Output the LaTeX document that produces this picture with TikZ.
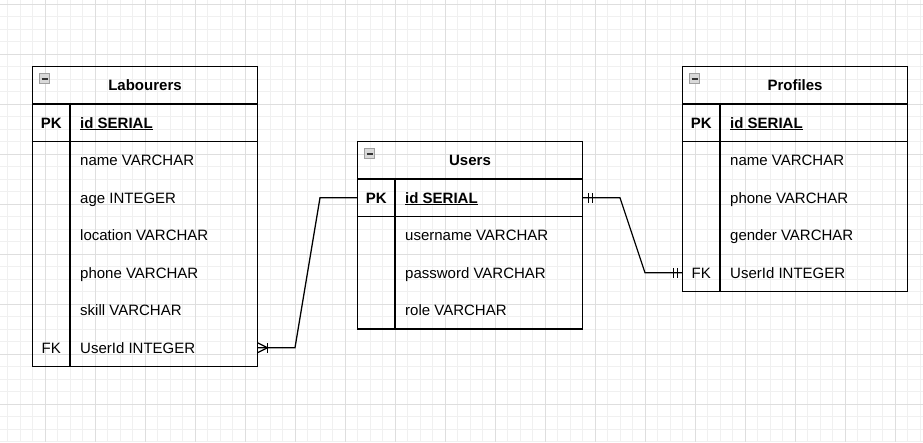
\documentclass[tikz,border=0pt]{standalone}
\usepackage{fontspec}
\setmainfont{Liberation Sans}
\tikzset{tblhead/.style={draw,line width=1.25pt,outer sep=0pt,inner sep=0pt,anchor=north west,minimum width=225pt,minimum height=37.5pt,text height=10.7pt,text depth=0pt,font=\fontsize{15}{18}\selectfont\bfseries}}
\tikzset{tblrow/.style={draw,line width=1.25pt,outer sep=0pt,inner sep=0pt,anchor=north west,minimum width=225pt}}
\tikzset{keytxt/.style={inner sep=0pt,text height=10.7pt,text depth=0pt,font=\fontsize{15}{18}\selectfont}}
\tikzset{fldtxt/.style={inner sep=0pt,anchor=west,text height=10.7pt,text depth=0pt,font=\fontsize{15}{18}\selectfont}}
\tikzset{fold/.style={draw=gray!75,fill=gray!30,line width=1.2pt,minimum size=10pt,inner sep=0pt,
  path picture={\draw[black!80,line width=2pt] ([xshift=-3pt]path picture bounding box.center) -- ([xshift=3pt]path picture bounding box.center);}}}
\tikzset{rel/.style={line width=1.25pt}}
\tikzset{gridminor/.style={draw=black!6,line width=0.8pt},gridmajor/.style={draw=black!13,line width=0.8pt}}

\begin{document}
\begin{tikzpicture}[x=1pt,y=-1pt]
    \useasboundingbox (0,0) rectangle (923,442);
    \fill[white] (0,0) rectangle (923,442);
    \foreach \k in {0,...,73} \draw[gridminor] (7.5+12.5*\k,0) -- ++(0,442);
    \foreach \k in {0,...,35} \draw[gridminor] (0,4+12.5*\k) -- ++(923,0);
    \foreach \k in {0,...,17} \draw[gridmajor] (45+50*\k,0) -- ++(0,442);
    \foreach \k in {0,...,8} \draw[gridmajor] (0,4+50*\k) -- ++(923,0);

    % Labourers
    \node[tblhead] (lab) at (32.5,66.5) {Labourers};
    \node[tblrow,minimum height=37.5pt] (lab-pkrow) at (32.5,104) {};
    \node[tblrow,minimum height=225pt] (lab-body) at (32.5,141.5) {};
    \draw[rel] (70,104) -- (70,366.5);
    \node[fold] (lab-fold) at (44.5,78.5) {};
    \node[keytxt] (lab-pk) at (51.25,122.75) {\bfseries PK};
    \node[fldtxt] (lab-id) at (80,122.75) {\bfseries\underline{id SERIAL}};
    \node[fldtxt] (lab-name) at (80,160.25) {name VARCHAR};
    \node[fldtxt] (lab-age) at (80,197.75) {age INTEGER};
    \node[fldtxt] (lab-location) at (80,235.25) {location VARCHAR};
    \node[fldtxt] (lab-phone) at (80,272.75) {phone VARCHAR};
    \node[fldtxt] (lab-skill) at (80,310.25) {skill VARCHAR};
    \node[keytxt] (lab-fk) at (51.25,347.75) {FK};
    \node[fldtxt] (lab-userid) at (80,347.75) {UserId INTEGER};

    % Users
    \node[tblhead] (usr) at (357.5,141.5) {Users};
    \node[tblrow,minimum height=37.5pt] (usr-pkrow) at (357.5,179) {};
    \node[tblrow,minimum height=112.5pt] (usr-body) at (357.5,216.5) {};
    \draw[rel] (395,179) -- (395,329);
    \node[fold] (usr-fold) at (369.5,153.5) {};
    \node[keytxt] (usr-pk) at (376.25,197.75) {\bfseries PK};
    \node[fldtxt] (usr-id) at (405,197.75) {\bfseries\underline{id SERIAL}};
    \node[fldtxt] (usr-username) at (405,235.25) {username VARCHAR};
    \node[fldtxt] (usr-password) at (405,272.75) {password VARCHAR};
    \node[fldtxt] (usr-role) at (405,310.25) {role VARCHAR};

    % Profiles
    \node[tblhead] (pro) at (682.5,66.5) {Profiles};
    \node[tblrow,minimum height=37.5pt] (pro-pkrow) at (682.5,104) {};
    \node[tblrow,minimum height=150pt] (pro-body) at (682.5,141.5) {};
    \draw[rel] (720,104) -- (720,291.5);
    \node[fold] (pro-fold) at (694.5,78.5) {};
    \node[keytxt] (pro-pk) at (701.25,122.75) {\bfseries PK};
    \node[fldtxt] (pro-id) at (730,122.75) {\bfseries\underline{id SERIAL}};
    \node[fldtxt] (pro-name) at (730,160.25) {name VARCHAR};
    \node[fldtxt] (pro-phone) at (730,197.75) {phone VARCHAR};
    \node[fldtxt] (pro-gender) at (730,235.25) {gender VARCHAR};
    \node[keytxt] (pro-fk) at (701.25,272.75) {FK};
    \node[fldtxt] (pro-userid) at (730,272.75) {UserId INTEGER};

    % relations
    \coordinate (lab-end) at (lab-userid -| lab-body.east);
    \coordinate (pro-end) at (pro-userid -| pro-body.west);
    \draw[rel] (lab-end) -- ++(37.5,0) -- ([xshift=-37.5pt]usr-pkrow.west) -- (usr-pkrow.west);
    \draw[rel] ([yshift=5pt]lab-end) -- ++(10,5) -- ++(-10,5);
    \draw[rel] ([xshift=10pt,yshift=5pt]lab-end) -- ++(0,10);
    \draw[rel] (usr-pkrow.east) -- ++(37.5,0) -- ([xshift=-37.5pt]pro-end) -- (pro-end);
    \draw[rel] ([xshift=6pt,yshift=5pt]usr-pkrow.east) -- ++(0,10);
    \draw[rel] ([xshift=10pt,yshift=5pt]usr-pkrow.east) -- ++(0,10);
    \draw[rel] ([xshift=-9pt,yshift=5pt]pro-end) -- ++(0,10);
    \draw[rel] ([xshift=-5pt,yshift=5pt]pro-end) -- ++(0,10);
\end{tikzpicture}
\end{document}
